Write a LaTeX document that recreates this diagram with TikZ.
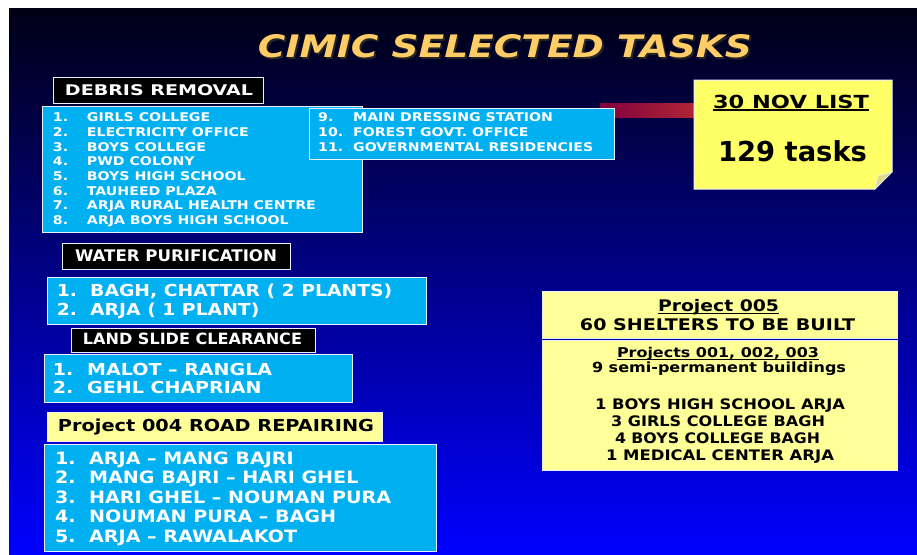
\documentclass[tikz,border=0pt]{standalone}
\usepackage{fontspec}
\usepackage{graphicx}
\setmainfont{DejaVu Sans}
\definecolor{cyanbg}{RGB}{0,176,240}
\definecolor{paleyel}{RGB}{255,255,153}
\definecolor{noteyel}{RGB}{255,255,102}
\definecolor{titlecol}{RGB}{255,204,102}
\definecolor{bgtop}{RGB}{0,0,20}
\definecolor{bgmid}{RGB}{0,0,165}
\definecolor{bgbot}{RGB}{0,0,255}
\definecolor{barL}{RGB}{128,0,62}
\definecolor{barR}{RGB}{178,40,52}
\definecolor{edge}{RGB}{235,240,255}
\definecolor{fold}{RGB}{220,220,140}

\newcommand\fw[2]{\resizebox{#1pt}{\height}{#2}}
\newcommand\fsz[1]{\fontsize{#1}{#1}\selectfont}
\newcommand\lsz[2]{\fontsize{#1}{#2}\selectfont}
\newcommand\mkscale[3]{\sbox0{#2}\pgfmathsetmacro#1{#3/\the\wd0}}
\newcommand\ulin[1]{\setbox0\hbox{#1}\rlap{\rule[-0.14em]{\wd0}{0.08em}}\box0}

\tikzset{
  panel/.style={draw=edge, line width=1.2pt, anchor=north west, inner sep=0pt},
  cyanpanel/.style={panel, fill=cyanbg},
  blackpanel/.style={panel, fill=black},
  yelpanel/.style={panel, fill=paleyel},
  lbl/.style={inner sep=0pt, anchor=base},
  whitelbl/.style={lbl, text=white},
  blacklbl/.style={lbl, text=black},
  listcol/.style={inner sep=0pt, anchor=base west, text=white},
}

\newcommand\panel[6]{\node[#1, minimum width={(#5-#3)*1pt}, minimum height={(#6-#4)*1pt}] (#2) at (#3,#4) {};}

\begin{document}
\mkscale{\sxA}{\bfseries\fsz{12}ARJA RURAL HEALTH CENTRE}{229}%
\mkscale{\sxB}{\bfseries\fsz{12}GOVERNMENTAL RESIDENCIES}{240}%
\mkscale{\sxC}{\bfseries\fsz{16.5}BAGH, CHATTAR ( 2 PLANTS)}{302}%
\mkscale{\sxD}{\bfseries\fsz{16.5}MALOT – RANGLA}{185}%
\mkscale{\sxE}{\bfseries\fsz{17}HARI GHEL – NOUMAN PURA}{302}%
\begin{tikzpicture}[x=1pt, y=-1pt]
\useasboundingbox (0,0) rectangle (917,554);
\fill[white] (0,0) rectangle (917,554);
\shade[top color=bgtop, middle color=bgmid, bottom color=bgbot] (9,8) rectangle (917,554);

% title
\node[lbl, text=black!85, font=\bfseries\itshape\fsz{31}] (titleshadow) at (506.8,59.0) {\fw{494}{CIMIC SELECTED TASKS}};
\node[lbl, text=titlecol, font=\bfseries\itshape\fsz{31}] (title) at (505,57.3) {\fw{494}{CIMIC SELECTED TASKS}};

% red bar behind
\shade[left color=barL, right color=barR] (600,103) rectangle (700,117);

% debris removal
\panel{blackpanel}{debrishdr}{53}{77}{263}{103}
\node[whitelbl, font=\bfseries\fsz{14.7}] (debristitle) at (159,95.7) {\fw{188}{DEBRIS REMOVAL}};
\panel{cyanpanel}{debrisbox}{42}{106}{362}{232}
\node[listcol, font=\bfseries\lsz{12}{14.66}] (dnum) at (52.7,121.7)
  {\scalebox{\sxA}[1]{\begin{tabular}[t]{@{}l@{}}1.\\2.\\3.\\4.\\5.\\6.\\7.\\8.\end{tabular}}};
\node[listcol, font=\bfseries\lsz{12}{14.66}] (dtxt) at (86.7,121.7)
  {\scalebox{\sxA}[1]{\begin{tabular}[t]{@{}l@{}}GIRLS COLLEGE\\ELECTRICITY OFFICE\\BOYS COLLEGE\\PWD COLONY\\BOYS HIGH SCHOOL\\TAUHEED PLAZA\\ARJA RURAL HEALTH CENTRE\\ARJA BOYS HIGH SCHOOL\end{tabular}}};
\panel{cyanpanel}{debrisbox2}{309}{108}{614}{159}
\node[listcol, font=\bfseries\lsz{12}{14.66}] (enum) at (318,121.7)
  {\scalebox{\sxB}[1]{\begin{tabular}[t]{@{}l@{}}9.\\10.\\11.\end{tabular}}};
\node[listcol, font=\bfseries\lsz{12}{14.66}] (etxt) at (353,121.7)
  {\scalebox{\sxB}[1]{\begin{tabular}[t]{@{}l@{}}MAIN DRESSING STATION\\FOREST GOVT. OFFICE\\GOVERNMENTAL RESIDENCIES\end{tabular}}};

% note
\path[fill=noteyel, draw=edge, line width=1pt] (694,80) -- (892,80) -- (892,172) -- (875,189) -- (694,189) -- cycle;
\path[fill=fold, draw=edge, line width=0.6pt] (892,172) -- (878,176) -- (875,189) -- cycle;
\node[blacklbl, font=\bfseries\fsz{18}] (notehead) at (791,108.3) {\fw{156}{\ulin{30 NOV LIST}}};
\node[blacklbl, font=\bfseries\fsz{27.5}] (notecount) at (792.5,161.7) {\fw{149}{129 tasks}};

% water purification
\panel{blackpanel}{waterhdr}{62}{243}{290}{269}
\node[whitelbl, font=\bfseries\fsz{16}] (watertitle) at (176,261.7) {\fw{202}{WATER PURIFICATION}};
\panel{cyanpanel}{waterbox}{47}{277}{426}{324}
\node[listcol, font=\bfseries\lsz{16.5}{18.3}] (wnum) at (56.7,296.7)
  {\scalebox{\sxC}[1]{\begin{tabular}[t]{@{}l@{}}1.\\2.\end{tabular}}};
\node[listcol, font=\bfseries\lsz{16.5}{18.3}] (wtxt) at (90,296.7)
  {\scalebox{\sxC}[1]{\begin{tabular}[t]{@{}l@{}}BAGH, CHATTAR ( 2 PLANTS)\\ARJA ( 1 PLANT)\end{tabular}}};

% land slide clearance
\panel{blackpanel}{landhdr}{71}{328}{315}{352}
\node[whitelbl, font=\bfseries\fsz{15.5}] (landtitle) at (192.5,344) {\fw{219}{LAND SLIDE CLEARANCE}};
\panel{cyanpanel}{landbox}{44}{354}{352}{402}
\node[listcol, font=\bfseries\lsz{16.5}{18.3}] (lnum) at (52.7,375)
  {\scalebox{\sxD}[1]{\begin{tabular}[t]{@{}l@{}}1.\\2.\end{tabular}}};
\node[listcol, font=\bfseries\lsz{16.5}{18.3}] (ltxt) at (87,375)
  {\scalebox{\sxD}[1]{\begin{tabular}[t]{@{}l@{}}MALOT – RANGLA\\GEHL CHAPRIAN\end{tabular}}};

% road repairing
\panel{yelpanel}{roadhdr}{47}{412}{382}{441}
\node[blacklbl, font=\bfseries\fsz{16.5}] (roadtitle) at (216,431.7) {\fw{316}{Project 004 ROAD REPAIRING}};
\panel{cyanpanel}{roadbox}{44}{444}{436}{551}
\node[listcol, font=\bfseries\lsz{17}{19.5}] (rnum) at (55,464.3)
  {\scalebox{\sxE}[1]{\begin{tabular}[t]{@{}l@{}}1.\\2.\\3.\\4.\\5.\end{tabular}}};
\node[listcol, font=\bfseries\lsz{17}{19.5}] (rtxt) at (89,464.3)
  {\scalebox{\sxE}[1]{\begin{tabular}[t]{@{}l@{}}ARJA – MANG BAJRI\\MANG BAJRI – HARI GHEL\\HARI GHEL – NOUMAN PURA\\NOUMAN PURA – BAGH\\ARJA – RAWALAKOT\end{tabular}}};

% projects on the right
\panel{yelpanel}{p005box}{542}{291}{897}{338}
\node[blacklbl, font=\bfseries\fsz{16}] (p005a) at (718.5,311.7) {\fw{121}{\ulin{Project 005}}};
\node[blacklbl, font=\bfseries\fsz{16}] (p005b) at (717.5,330) {\fw{275}{60 SHELTERS TO BE BUILT}};
\panel{yelpanel}{p001box}{542}{340}{897}{470}
\node[blacklbl, font=\bfseries\fsz{13.5}] (p001a) at (718,357.7) {\fw{202}{\ulin{Projects 001, 002, 003}}};
\node[blacklbl, font=\bfseries\fsz{14}] (p001b) at (719,372.3) {\fw{254}{9 semi-permanent buildings}};
\node[blacklbl, font=\bfseries\fsz{14.5}] (p001c) at (720,409) {\fw{250}{1 BOYS HIGH SCHOOL ARJA}};
\node[blacklbl, font=\bfseries\fsz{14.5}] (p001d) at (718,426.7) {\fw{214}{3 GIRLS COLLEGE BAGH}};
\node[blacklbl, font=\bfseries\fsz{14.5}] (p001e) at (717.5,443.3) {\fw{205}{4 BOYS COLLEGE BAGH}};
\node[blacklbl, font=\bfseries\fsz{14.5}] (p001f) at (720,460) {\fw{228}{1 MEDICAL CENTER ARJA}};
\end{tikzpicture}
\end{document}
